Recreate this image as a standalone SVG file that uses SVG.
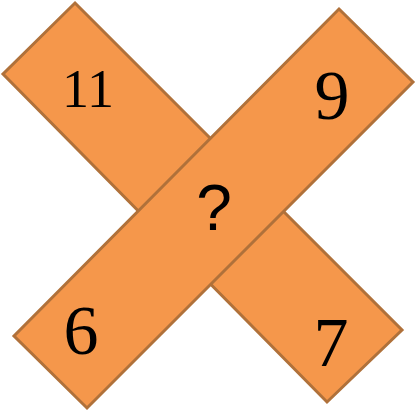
<svg xmlns="http://www.w3.org/2000/svg" width="416" height="414" viewBox="0 0 416 414">
<style>
.bar{fill:#F5974B;stroke:#B0713A;stroke-width:3;stroke-linejoin:miter}
.num{font-family:"Liberation Serif","DejaVu Serif",serif;fill:#000;text-anchor:middle}
.q{font-family:"Liberation Sans","DejaVu Sans",sans-serif;fill:#000;text-anchor:middle}
</style>
<rect width="416" height="414" fill="#fff"/>
<g id="bar1"><polygon class="bar" points="75,3 402,330 327,402 3,74"/></g>
<g id="bar2"><polygon class="bar" points="339,9 413,82 87,408 14,336"/></g>
<g id="labels">
<text class="num" x="88" y="107" font-size="54">11</text>
<text class="num" x="332" y="119" font-size="70">9</text>
<text class="num" x="81" y="354" font-size="70">6</text>
<text class="num" x="331" y="366" font-size="70">7</text>
<text class="q" x="214" y="230" font-size="64">?</text>
</g>
</svg>
